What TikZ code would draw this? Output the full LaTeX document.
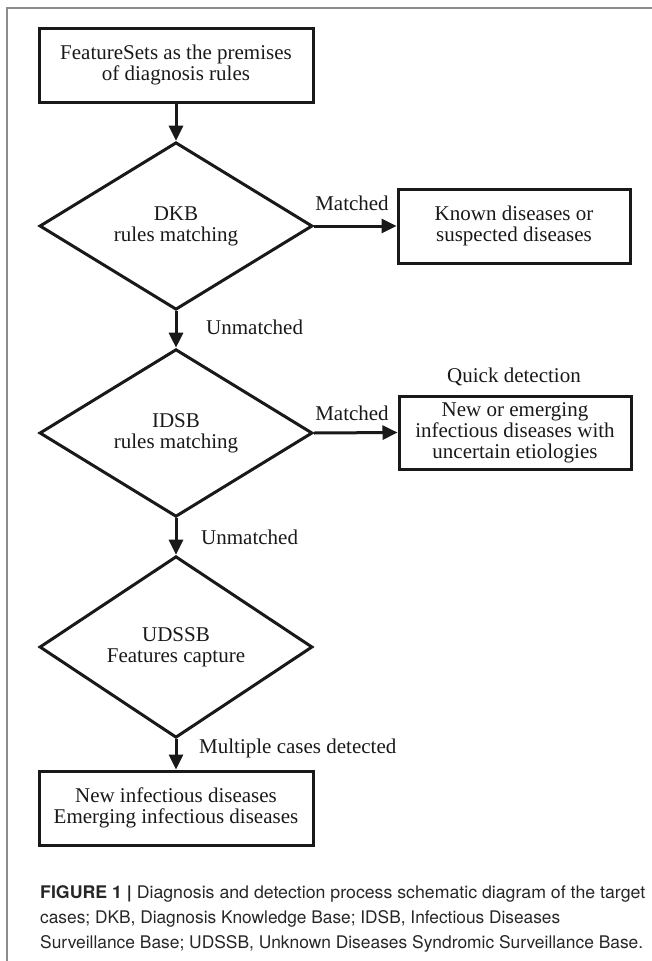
\documentclass[tikz,border=0pt]{standalone}
\usepackage{fontspec}
\usepackage{graphicx}
\setmainfont{Liberation Serif}
\newfontfamily\capfont{TeX Gyre Heros}
\usetikzlibrary{shapes.geometric,arrows.meta}
\begin{document}
\begin{tikzpicture}[x=1pt,y=-1pt,
  thickline/.style={line width=3pt, draw=black!90},
  txt/.style={font=\fontsize{21}{21}\selectfont, text=black!90},
  box/.style={thickline, txt, rectangle, minimum width=274pt, minimum height=74pt, align=center, inner sep=2pt},
  rbox/.style={thickline, txt, rectangle, minimum width=232pt, minimum height=74pt, align=center, inner sep=2pt},
  dia/.style={thickline, txt, diamond, minimum width=273pt, minimum height=167pt, align=center, inner sep=1pt},
  arr/.style={thickline, -{Triangle[length=15pt,width=14pt]}},
  lab/.style={txt, inner sep=0pt},
  framestyle/.style={draw=black!45, line width=1.3pt}]
\useasboundingbox (0,0) rectangle (652,961);
\draw[framestyle] (7,961) -- (7,8) -- (652,8);

\node[box] (top) at (176,65) {FeatureSets as the premises\\of diagnosis rules};
\node[dia] (d1) at (176,226) {DKB\\rules matching};
\node[rbox] (k1) at (514,226) {Known diseases or\\suspected diseases};
\node[dia] (d2) at (176,433) {IDSB\\rules matching};
\node[rbox, minimum height=73pt] (k2) at (515,432.5) {New or emerging\\infectious diseases with\\uncertain etiologies};
\node[dia] (d3) at (176,647) {UDSSB\\Features capture};
\node[box] (bot) at (176,808) {New infectious diseases\\Emerging infectious diseases};

\draw[arr] (top) -- (d1);
\draw[arr] (d1.east) -- (k1.west);
\draw[arr] (d1.south) -- (d2.north);
\draw[arr] (d2.east) -- (k2.west);
\draw[arr] (d2.south) -- (d3.north);
\draw[arr] (d3.south) -- (bot.north);

\node[lab] (m1) at (352,203) {Matched};
\node[lab] (m2) at (352,413) {Matched};
\node[lab] (qd) at (514,377) {Quick detection};
\node[lab, anchor=west] (u1) at (206,327) {Unmatched};
\node[lab, anchor=west] (u2) at (201,537) {Unmatched};
\node[lab, anchor=west] (mc) at (199,748) {Multiple cases detected};

\node[anchor=base west, align=left, inner sep=0pt, text=black!85,
  font=\capfont\fontsize{17.4}{25}\selectfont] (cap) at (40,948)
  {\resizebox{605pt}{\height}{\textbf{FIGURE 1 |} Diagnosis and detection process schematic diagram of the target}\\
   \resizebox{520pt}{\height}{cases; DKB, Diagnosis Knowledge Base; IDSB, Infectious Diseases}\\
   \resizebox{603pt}{\height}{Surveillance Base; UDSSB, Unknown Diseases Syndromic Surveillance Base.}};
\end{tikzpicture}
\end{document}
